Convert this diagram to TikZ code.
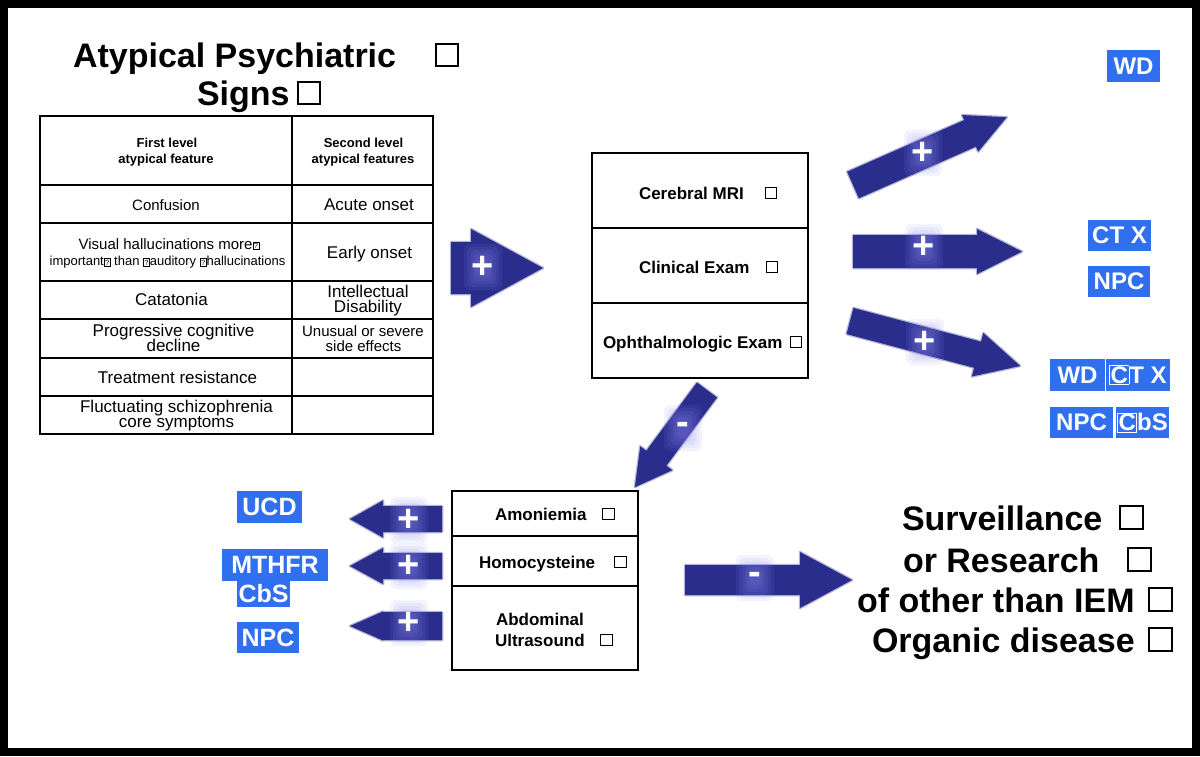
\documentclass[tikz,border=0pt]{standalone}
\usepackage{fontspec}
\setmainfont{Liberation Sans}
\definecolor{navy}{RGB}{42,45,140}
\definecolor{lblue}{RGB}{48,112,238}
\definecolor{glowc}{RGB}{140,140,245}
\newcommand\fs[1]{\fontsize{#1}{#1}\selectfont}
\newcommand\cbox[2]{{\setlength\fboxsep{0pt}\setlength\fboxrule{#2}\fbox{\rule{0pt}{#1}\rule{#1}{0pt}}}}
\newcommand\qbox{{\setlength\fboxsep{0.8pt}\setlength\fboxrule{0.5pt}\raisebox{0.5pt}{\fbox{\fontsize{7.5}{7.5}\selectfont ?}}}}
\newcommand\wc[1]{{\setlength\fboxsep{0.5pt}\setlength\fboxrule{0.8pt}\fcolorbox{white}{lblue}{#1}}}
\newcommand\barrow[7]{%
  \begin{scope}[shift={(#1,#2)},rotate=#3]
    \path[arr] (0,-#5) -- ({#4-#7},-#5) -- ({#4-#7},-#6) -- (#4,0) -- ({#4-#7},#6) -- ({#4-#7},#5) -- (0,#5) -- cycle;
  \end{scope}}
\newcommand\glow[2]{%
  \foreach \ga/\gb in {19/23,16/20,13/17,10/14,8/11,6/8}
    \fill[glowc, opacity=0.1, rounded corners=6pt] ({#1-\ga},{#2-\gb}) rectangle ({#1+\ga},{#2+\gb});}
\begin{document}
\begin{tikzpicture}[x=1pt,y=-1pt,
  every node/.style={inner sep=0pt, outer sep=0pt},
  tx/.style={anchor=base, font=\fs{17}},
  txb/.style={anchor=base west, font=\bfseries\fs{17}},
  big/.style={anchor=base west, font=\bfseries\fs{34}},
  lab/.style={fill=lblue, text=white, font=\bfseries\fs{24}, inner sep=0pt, minimum height=31pt, anchor=center},
  arr/.style={fill=navy, draw=navy, draw opacity=0.35, line width=2.5pt, line join=round},
  sgn/.style={text=white, font=\bfseries\fs{38}, anchor=center},
  tabline/.style={line width=1.6pt},
  boxline/.style={line width=1.5pt}]
% frame
\fill[black] (0,0) rectangle (1200,756);
\fill[white] (7.5,7.5) rectangle (1191.5,748);

% title
\node[big] (title1) at (73,67) {Atypical Psychiatric\hspace{39pt}\raisebox{2pt}{\cbox{20pt}{2pt}}};
\node[big] (title2) at (197,105) {Signs\hspace{7pt}\raisebox{2pt}{\cbox{20pt}{2pt}}};

% table
\draw[tabline] (40,116) rectangle (433,434);
\draw[tabline] (292,116) -- (292,434);
\foreach \yy in {185,223,281,319,358,396} \draw[tabline] (40,\yy) -- (433,\yy);

\node[tx, font=\bfseries\fs{13}] (h1a) at (167,147) {First level};
\node[tx, font=\bfseries\fs{13}] (h1b) at (166,163) {atypical feature};
\node[tx, font=\bfseries\fs{13}] (h2a) at (363.5,147) {Second level};
\node[tx, font=\bfseries\fs{13}] (h2b) at (363,163) {atypical features};
\node[tx, font=\fs{15}] (c1) at (166,210.5) {Confusion};
\node[tx] (c2) at (369,210.5) {Acute onset};
\node[tx, font=\fs{15}] (v1) at (169,249) {Visual hallucinations more\qbox};
\node[tx, font=\fs{13}] (v2) at (167.5,265.5) {important\qbox{} than \qbox auditory \qbox hallucinations};
\node[tx] (e1) at (369.5,258) {Early onset};
\node[tx] (ct) at (171.5,305.5) {Catatonia};
\node[tx] (id1) at (368,297) {Intellectual};
\node[tx] (id2) at (368,312.5) {Disability};
\node[tx] (pc1) at (173.5,336.5) {Progressive cognitive};
\node[tx] (pc2) at (173.5,351.5) {decline};
\node[tx, font=\fs{15}] (us1) at (363,336.5) {Unusual or severe};
\node[tx, font=\fs{15}] (us2) at (363.5,351.5) {side effects};
\node[tx] (tr) at (177.5,383) {Treatment resistance};
\node[tx] (fl1) at (176.5,412) {Fluctuating schizophrenia};
\node[tx] (fl2) at (176.5,427) {core symptoms};

% middle box
\draw[boxline] (592,153) rectangle (808,378);
\draw[boxline] (592,228) -- (808,228);
\draw[boxline] (592,303) -- (808,303);
\node[txb] (mri) at (639,199) {Cerebral MRI\hspace{21pt}\raisebox{1pt}{\cbox{10pt}{1pt}}};
\node[txb] (clin) at (639,273) {Clinical Exam\hspace{16.4pt}\raisebox{1pt}{\cbox{10pt}{1pt}}};
\node[txb] (oph) at (603,348) {Ophthalmologic Exam\hspace{7.5pt}\raisebox{1pt}{\cbox{10pt}{1pt}}};

% bottom box
\draw[boxline] (452,491) rectangle (638,670);
\draw[boxline] (452,536) -- (638,536);
\draw[boxline] (452,586) -- (638,586);
\node[txb] (amo) at (495,520) {Amoniemia\hspace{15.4pt}\raisebox{1pt}{\cbox{10.5pt}{1pt}}};
\node[txb] (homo) at (479,568) {Homocysteine\hspace{19pt}\raisebox{1pt}{\cbox{10.5pt}{1pt}}};
\node[txb] (abd1) at (496,625) {Abdominal};
\node[txb] (abd2) at (495,646) {Ultrasound\hspace{15.3pt}\raisebox{1pt}{\cbox{10.5pt}{1pt}}};

% block arrows
\barrow{451}{268}{0}{92}{26}{39}{72}
\barrow{853}{185}{23.8}{168}{14.5}{20}{40}
\barrow{853}{251.5}{0}{169}{16.5}{22.5}{45}
\barrow{850}{321}{-14.8}{176}{13.5}{22.5}{44}
\barrow{707}{390}{-126.6}{121}{12.5}{20}{36}
\barrow{442}{519}{180}{92}{13}{18.5}{33}
\barrow{442}{566}{180}{92}{13}{18}{33}
\barrow{442}{626}{180}{92}{14}{14.5}{33}
\barrow{685}{580}{0}{167}{15}{28}{52}

% glows and signs
\glow{483}{267}
\glow{923}{153}
\glow{924}{247}
\glow{925}{342}
\glow{683}{428}
\glow{409}{520}
\glow{409}{566}
\glow{409}{623}
\glow{755}{578}
\node[sgn] (p0) at (483,267) {+};
\node[sgn] (p1) at (923,153) {+};
\node[sgn] (p2) at (924,247) {+};
\node[sgn] (p3) at (925,342) {+};
\node[sgn] (m1) at (683,428) {-};
\node[sgn] (p4) at (409,520) {+};
\node[sgn] (p5) at (409,566) {+};
\node[sgn] (p6) at (409,623) {+};
\node[sgn] (m2) at (755,578) {-};

% labels
\node[lab, minimum width=53pt, minimum height=32pt] (wd1) at (1133.5,66) {WD};
\node[lab, minimum width=63pt] (ctx1) at (1119.5,235.5) {CT X};
\node[lab, minimum width=62pt] (npc1) at (1119,281.5) {NPC};
\node[lab, minimum width=55pt, minimum height=32pt] (wd2) at (1077.5,375) {WD};
\node[lab, minimum width=64pt, minimum height=32pt] (ctx2) at (1138,375) {\wc{C}T X};
\node[lab, minimum width=63pt] (npc2) at (1081.5,422.5) {NPC};
\node[lab, minimum width=53pt] (cbs2) at (1142.5,422.5) {\wc{C}bS};
\node[lab, minimum width=65pt, minimum height=32pt, font=\bfseries\fs{25}] (ucd) at (269.5,507) {UCD};
\node[lab, minimum width=106pt, minimum height=32pt, font=\bfseries\fs{25}] (mthfr) at (275,565) {MTHFR};
\node[lab, minimum width=53pt, minimum height=26pt, font=\bfseries\fs{25}] (cbs1) at (263.5,594) {CbS};
\node[lab, minimum width=62pt, font=\bfseries\fs{25}] (npc3) at (268,637.5) {NPC};

% right conclusion text
\node[big] (r1) at (902,530) {Surveillance\hspace{16.4pt}\raisebox{2pt}{\cbox{21pt}{2pt}}};
\node[big] (r2) at (903,572) {or Research\hspace{27.5pt}\raisebox{2pt}{\cbox{21pt}{2pt}}};
\node[big] (r3) at (857,612) {of other than IEM\hspace{13.3pt}\raisebox{2pt}{\cbox{21pt}{2pt}}};
\node[big] (r4) at (872,652) {Organic disease\hspace{13.3pt}\raisebox{2pt}{\cbox{21pt}{2pt}}};
\end{tikzpicture}
\end{document}
